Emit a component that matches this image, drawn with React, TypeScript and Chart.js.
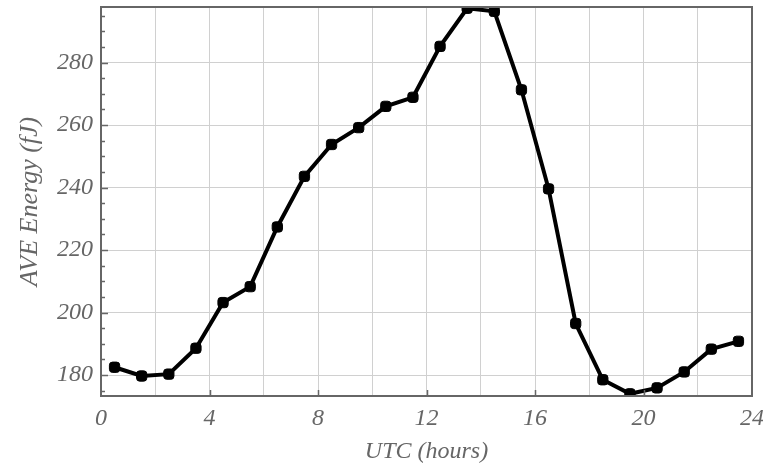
import React, { useEffect, useRef } from "react";
import { Chart, registerables } from "chart.js";

Chart.register(...registerables);

const hours = [0.5, 1.5, 2.5, 3.5, 4.5, 5.5, 6.5, 7.5, 8.5, 9.5, 10.5, 11.5, 12.5, 13.5, 14.5, 15.5, 16.5, 17.5, 18.5, 19.5, 20.5, 21.5, 22.5, 23.5];
const energy = [182.5, 179.7, 180.3, 188.6, 203.2, 208.3, 227.4, 243.6, 253.8, 259.2, 266.0, 268.9, 285.2, 297.4, 296.4, 271.3, 239.6, 196.5, 178.5, 174.0, 175.9, 181.0, 188.3, 190.8];
const xGridValues = [0, 2, 4, 6, 8, 10, 12, 14, 16, 18, 20, 22, 24];
const xLabelValues = [0, 4, 8, 12, 16, 20, 24];
const yGridValues = [180, 200, 220, 240, 260, 280];
const yMinorValues = [175, 180, 185, 190, 195, 200, 205, 210, 215, 220, 225, 230, 235, 240, 245, 250, 255, 260, 265, 270, 275, 280, 285, 290, 295];
const yMin = 173.3;
const yMax = 297.8;

const GRAY = "#666666";
const FAMILY = "'Liberation Serif', 'Times New Roman', serif";
const TICK_FONT = { family: FAMILY, style: "italic" as const, size: 24 };
const XTITLE_FONT = { family: FAMILY, style: "italic" as const, size: 24 };
const YTITLE_FONT = { family: FAMILY, style: "italic" as const, size: 26 };

const framePlugin = {
  id: "frame",
  afterDraw(chart: any) {
    const { ctx, chartArea } = chart;
    const xs = chart.scales.x;
    const ys = chart.scales.y;
    ctx.save();
    ctx.strokeStyle = GRAY;
    ctx.lineWidth = 2;
    ctx.strokeRect(chartArea.left, chartArea.top, chartArea.right - chartArea.left, chartArea.bottom - chartArea.top);
    ctx.lineWidth = 1.5;
    ctx.beginPath();
    for (const v of xLabelValues) {
      if (v === 0 || v === 24) continue;
      const px = Math.round(xs.getPixelForValue(v)) + 0.5;
      ctx.moveTo(px, chartArea.bottom);
      ctx.lineTo(px, chartArea.bottom - 6);
    }
    for (const v of yMinorValues) {
      const py = Math.round(ys.getPixelForValue(v)) + 0.5;
      const len = v % 20 === 0 ? 7 : 4;
      ctx.moveTo(chartArea.left, py);
      ctx.lineTo(chartArea.left + len, py);
    }
    ctx.stroke();
    ctx.restore();
  },
};

export default function App() {
  const ref = useRef<HTMLCanvasElement | null>(null);
  useEffect(() => {
    document.body.style.margin = "0";
    const chart = new Chart(ref.current as HTMLCanvasElement, {
      type: "line",
      data: {
        datasets: [
          {
            data: hours.map((h, i) => ({ x: h, y: energy[i] })),
            borderColor: "#000",
            backgroundColor: "#000",
            borderWidth: 4,
            pointRadius: 6,
            pointStyle: "rectRounded",
            pointBorderWidth: 1,
            tension: 0,
            clip: 0,
          } as any,
        ],
      },
      options: {
        animation: false,
        responsive: false,
        devicePixelRatio: 1,
        layout: { padding: { top: 5, right: 11, left: 0, bottom: 0 } },
        plugins: { legend: { display: false }, tooltip: { enabled: false } },
        scales: {
          x: {
            type: "linear",
            min: 0,
            max: 24,
            afterBuildTicks: (s: any) => {
              s.ticks = xGridValues.map((v) => ({ value: v }));
            },
            afterFit: (s: any) => {
              s.height = 70;
              s.paddingLeft = 0;
              s.paddingRight = 0;
            },
            grid: { color: "#d0d0d0", lineWidth: 1, drawTicks: false },
            border: { display: false },
            ticks: {
              color: GRAY,
              font: TICK_FONT,
              padding: 8,
              maxRotation: 0,
              autoSkip: false,
              callback: (v: any) => (Number(v) % 4 === 0 ? String(v) : ""),
            },
            title: { display: true, text: "UTC (hours)", color: GRAY, font: XTITLE_FONT, padding: { top: 0, bottom: 0 } },
          },
          y: {
            type: "linear",
            min: yMin,
            max: yMax,
            afterBuildTicks: (s: any) => {
              s.ticks = yGridValues.map((v) => ({ value: v }));
            },
            afterFit: (s: any) => {
              s.width = 101;
              s.paddingTop = 0;
              s.paddingBottom = 0;
            },
            grid: { color: "#d0d0d0", lineWidth: 1, drawTicks: false },
            border: { display: false },
            ticks: { color: GRAY, font: TICK_FONT, padding: 8, autoSkip: false, callback: (v: any) => String(v) },
            title: { display: true, text: "AVE Energy (fJ)", color: GRAY, font: YTITLE_FONT, padding: { top: 15, bottom: 0 } },
          },
        },
      },
      plugins: [framePlugin],
    });
    return () => chart.destroy();
  }, []);
  return (
    <div style={{ position: "absolute", left: 0, top: 0, width: 763, height: 466 }}>
      <canvas ref={ref} width={763} height={466} style={{ width: 763, height: 466 }} />
    </div>
  );
}
